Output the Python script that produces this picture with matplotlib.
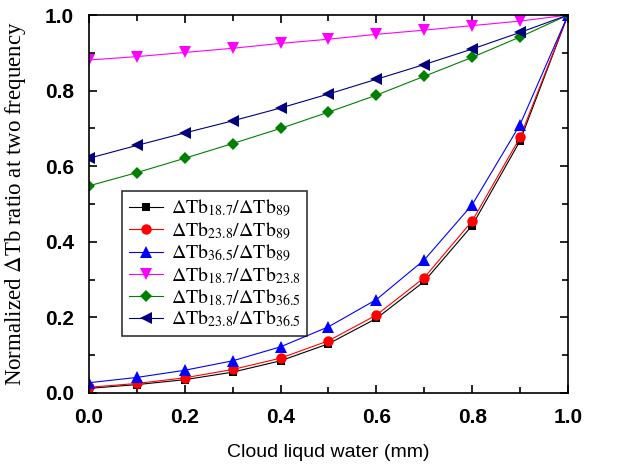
import matplotlib
matplotlib.use("Agg")
import matplotlib.pyplot as plt
from matplotlib.ticker import MultipleLocator

# cloud liquid water (mm)
clw = [0.0, 0.1, 0.2, 0.3, 0.4, 0.5, 0.6, 0.7, 0.8, 0.9, 1.0]

r_187_89 = [0.012, 0.022, 0.035, 0.055, 0.085, 0.130, 0.197, 0.295, 0.443, 0.667, 1.0]
r_238_89 = [0.015, 0.025, 0.040, 0.062, 0.092, 0.138, 0.206, 0.305, 0.455, 0.676, 1.0]
r_365_89 = [0.027, 0.041, 0.060, 0.085, 0.122, 0.175, 0.247, 0.352, 0.498, 0.710, 1.0]
r_187_238 = [0.881, 0.890, 0.901, 0.912, 0.925, 0.936, 0.949, 0.960, 0.972, 0.984, 1.0]
r_187_365 = [0.548, 0.583, 0.621, 0.660, 0.700, 0.743, 0.788, 0.838, 0.888, 0.942, 1.0]
r_238_365 = [0.621, 0.655, 0.688, 0.720, 0.754, 0.791, 0.830, 0.869, 0.910, 0.954, 1.0]

labels = [
    r"$\Delta\mathrm{Tb}_{18.7}/\Delta\mathrm{Tb}_{89}$",
    r"$\Delta\mathrm{Tb}_{23.8}/\Delta\mathrm{Tb}_{89}$",
    r"$\Delta\mathrm{Tb}_{36.5}/\Delta\mathrm{Tb}_{89}$",
    r"$\Delta\mathrm{Tb}_{18.7}/\Delta\mathrm{Tb}_{23.8}$",
    r"$\Delta\mathrm{Tb}_{18.7}/\Delta\mathrm{Tb}_{36.5}$",
    r"$\Delta\mathrm{Tb}_{23.8}/\Delta\mathrm{Tb}_{36.5}$",
]

plt.rcParams["mathtext.fontset"] = "stix"

fig = plt.figure(figsize=(6.18, 4.70), dpi=100)
ax = fig.add_axes([0.144, 0.164, 0.775, 0.804])

series = [r_187_89, r_238_89, r_365_89, r_187_238, r_187_365, r_238_365]
colors = ["black", "red", "blue", "magenta", "#008000", "#000080"]
markers = ["s", "o", "^", "v", "D", "<"]
msizes = [6, 7.5, 8, 8, 6.5, 8]

for ys, c, m, ms, lab in zip(series, colors, markers, msizes, labels):
    ax.plot(clw, ys, color=c, marker=m, markersize=ms, linewidth=0.8,
            markeredgewidth=0, label=lab)

ax.set_xlim(0, 1.0)
ax.set_ylim(0, 1.0)
ax.xaxis.set_major_locator(MultipleLocator(0.2))
ax.xaxis.set_minor_locator(MultipleLocator(0.1))
ax.yaxis.set_major_locator(MultipleLocator(0.2))
ax.yaxis.set_minor_locator(MultipleLocator(0.1))
ax.tick_params(which="both", direction="in", top=True, right=True, width=1.2)
ax.tick_params(which="major", length=6, labelsize=15, pad=11)
ax.tick_params(which="minor", length=4)
for lbl in ax.get_xticklabels() + ax.get_yticklabels():
    lbl.set_fontweight("bold")
    lbl.set_family("Liberation Sans")
for s in ax.spines.values():
    s.set_linewidth(1.2)

ax.set_xlabel("Cloud liqud water (mm)", family="Liberation Sans", fontsize=14, labelpad=12)
ax.set_ylabel(r"Normalized $\Delta$Tb ratio at two frequency", family="Liberation Serif",
              fontsize=16.5, labelpad=12)

leg = ax.legend(loc="upper left", bbox_to_anchor=(0.069, 0.535), fontsize=14.3,
                frameon=True, fancybox=False, edgecolor="black", handlelength=1.7,
                labelspacing=0.05, borderpad=0.35, handletextpad=0.4, borderaxespad=0)
leg.get_frame().set_linewidth(1.2)

fig.savefig("out.png", dpi=100)
